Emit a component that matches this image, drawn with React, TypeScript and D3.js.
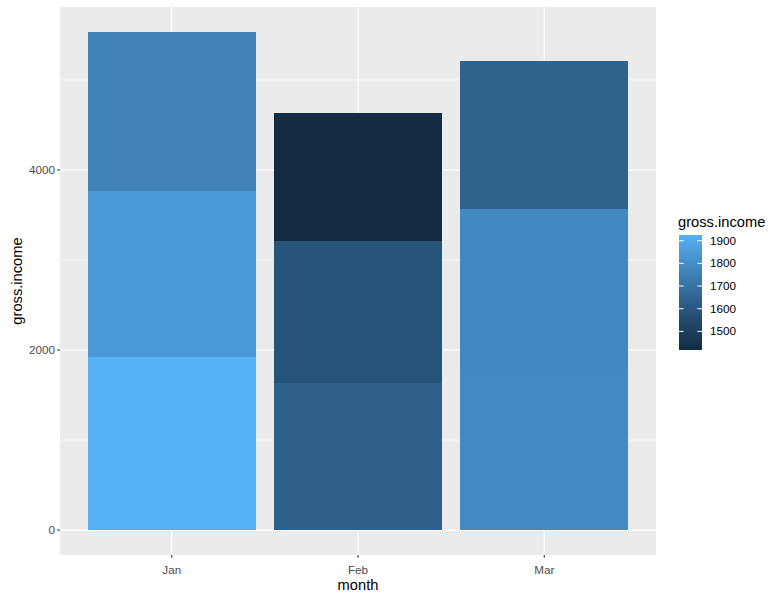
import React from 'react';
import * as d3 from 'd3';

// 월별 총이익 (아래에서 위로 쌓는 순서)
const months = ['Jan', 'Feb', 'Mar'];
const janIncome = [1925, 1842, 1766];
const febIncome = [1633, 1582, 1418];
const marIncome = [1789, 1781, 1641];
const yTicks = [0, 2000, 4000];
const yMinor = [1000, 3000, 5000];
const legendTicks = [1500, 1600, 1700, 1800, 1900];

const series = [janIncome, febIncome, marIncome];

const App: React.FC = () => {
  const width = 783;
  const height = 600;
  const margin = { top: 7, right: 127, bottom: 45, left: 60 };
  const pl = margin.left;
  const pr = width - margin.right;
  const pt = margin.top;
  const pb = height - margin.bottom;

  const segs = months.flatMap((m, i) => {
    let acc = 0;
    return series[i].map(v => {
      const s = { month: m, idx: i, y0: acc, y1: acc + v, value: v };
      acc += v;
      return s;
    });
  });

  const allVals = series.flat();
  const vMin = d3.min(allVals)!;
  const vMax = d3.max(allVals)!;
  const yMax = d3.max(segs, d => d.y1)!;

  const y = d3.scaleLinear()
    .domain([-yMax * 0.05, yMax * 1.05])
    .range([pb, pt]);

  // ggplot 이산 축: 양쪽 0.6 확장
  const x = d3.scaleLinear()
    .domain([1 - 0.6, months.length + 0.6])
    .range([pl, pr]);

  // ggplot 기본 연속 색상
  const color = d3.scaleLinear<string>()
    .domain([vMin, vMax])
    .range(['#132B43', '#56B1F7'])
    .interpolate(d3.interpolateLab);

  const cx = (i: number) => x(i + 1);
  const barW = x(1.45) - x(0.55);

  // 범례 색상바
  const barTop = 235;
  const barH = 115;
  const barL = 679;
  const barWid = 23;
  const ly = d3.scaleLinear().domain([vMin, vMax]).range([barTop + barH, barTop]);
  const stops = d3.range(11).map(i => i / 10);

  const font = '"Liberation Sans", Arial, sans-serif';

  return (
    <svg width={width} height={height} style={{ position: 'absolute', left: 0, top: 0, fontFamily: font }}>
      <defs>
        <linearGradient id="cbar" x1="0" y1="1" x2="0" y2="0">
          {stops.map(s => (
            <stop key={s} offset={s} stopColor={color(vMin + (vMax - vMin) * s)} />
          ))}
        </linearGradient>
      </defs>
      <rect x={0} y={0} width={width} height={height} fill="#fff" />
      <rect x={pl} y={pt} width={pr - pl} height={pb - pt} fill="#EBEBEB" />
      {yMinor.map(t => (
        <line key={'mi' + t} x1={pl} x2={pr} y1={y(t)} y2={y(t)} stroke="#fff" strokeWidth={0.55} />
      ))}
      {yTicks.map(t => (
        <line key={'ma' + t} x1={pl} x2={pr} y1={y(t)} y2={y(t)} stroke="#fff" strokeWidth={1.1} />
      ))}
      {months.map((m, i) => (
        <line key={'gx' + m} x1={cx(i)} x2={cx(i)} y1={pt} y2={pb} stroke="#fff" strokeWidth={1.1} />
      ))}
      {segs.map((s, i) => (
        <rect key={i} x={cx(s.idx) - barW / 2} width={barW} y={y(s.y1)} height={y(s.y0) - y(s.y1)}
          fill={color(s.value)} shapeRendering="crispEdges" />
      ))}
      {/* y 축 */}
      {yTicks.map(t => (
        <g key={'yt' + t}>
          <line x1={pl - 2.7} x2={pl} y1={y(t)} y2={y(t)} stroke="#333" strokeWidth={1.1} />
          <text x={pl - 5} y={y(t)} dy="0.35em" textAnchor="end" fontSize={11.7} fill="#4D4D4D">{t}</text>
        </g>
      ))}
      {/* x 축 */}
      {months.map((m, i) => (
        <g key={'xt' + m}>
          <line x1={cx(i)} x2={cx(i)} y1={pb} y2={pb + 2.7} stroke="#333" strokeWidth={1.1} />
          <text x={cx(i)} y={pb + 19} textAnchor="middle" fontSize={11.7} fill="#4D4D4D">{m}</text>
        </g>
      ))}
      <text x={(pl + pr) / 2} y={pb + 35} textAnchor="middle" fontSize={14.7} fill="#000">month</text>
      <text transform={`translate(22,${(pt + pb) / 2}) rotate(-90)`} textAnchor="middle" fontSize={14.7} fill="#000">gross.income</text>
      {/* 범례 */}
      <text x={678} y={227} fontSize={14.7} fill="#000">gross.income</text>
      <rect x={barL} y={barTop} width={barWid} height={barH} fill="url(#cbar)" />
      {legendTicks.map(t => (
        <g key={'lt' + t}>
          <line x1={barL} x2={barL + 4.6} y1={ly(t)} y2={ly(t)} stroke="#fff" strokeWidth={1} />
          <line x1={barL + barWid - 4.6} x2={barL + barWid} y1={ly(t)} y2={ly(t)} stroke="#fff" strokeWidth={1} />
          <text x={barL + barWid + 8} y={ly(t)} dy="0.35em" fontSize={11.7} fill="#000">{t}</text>
        </g>
      ))}
    </svg>
  );
};

export default App;
